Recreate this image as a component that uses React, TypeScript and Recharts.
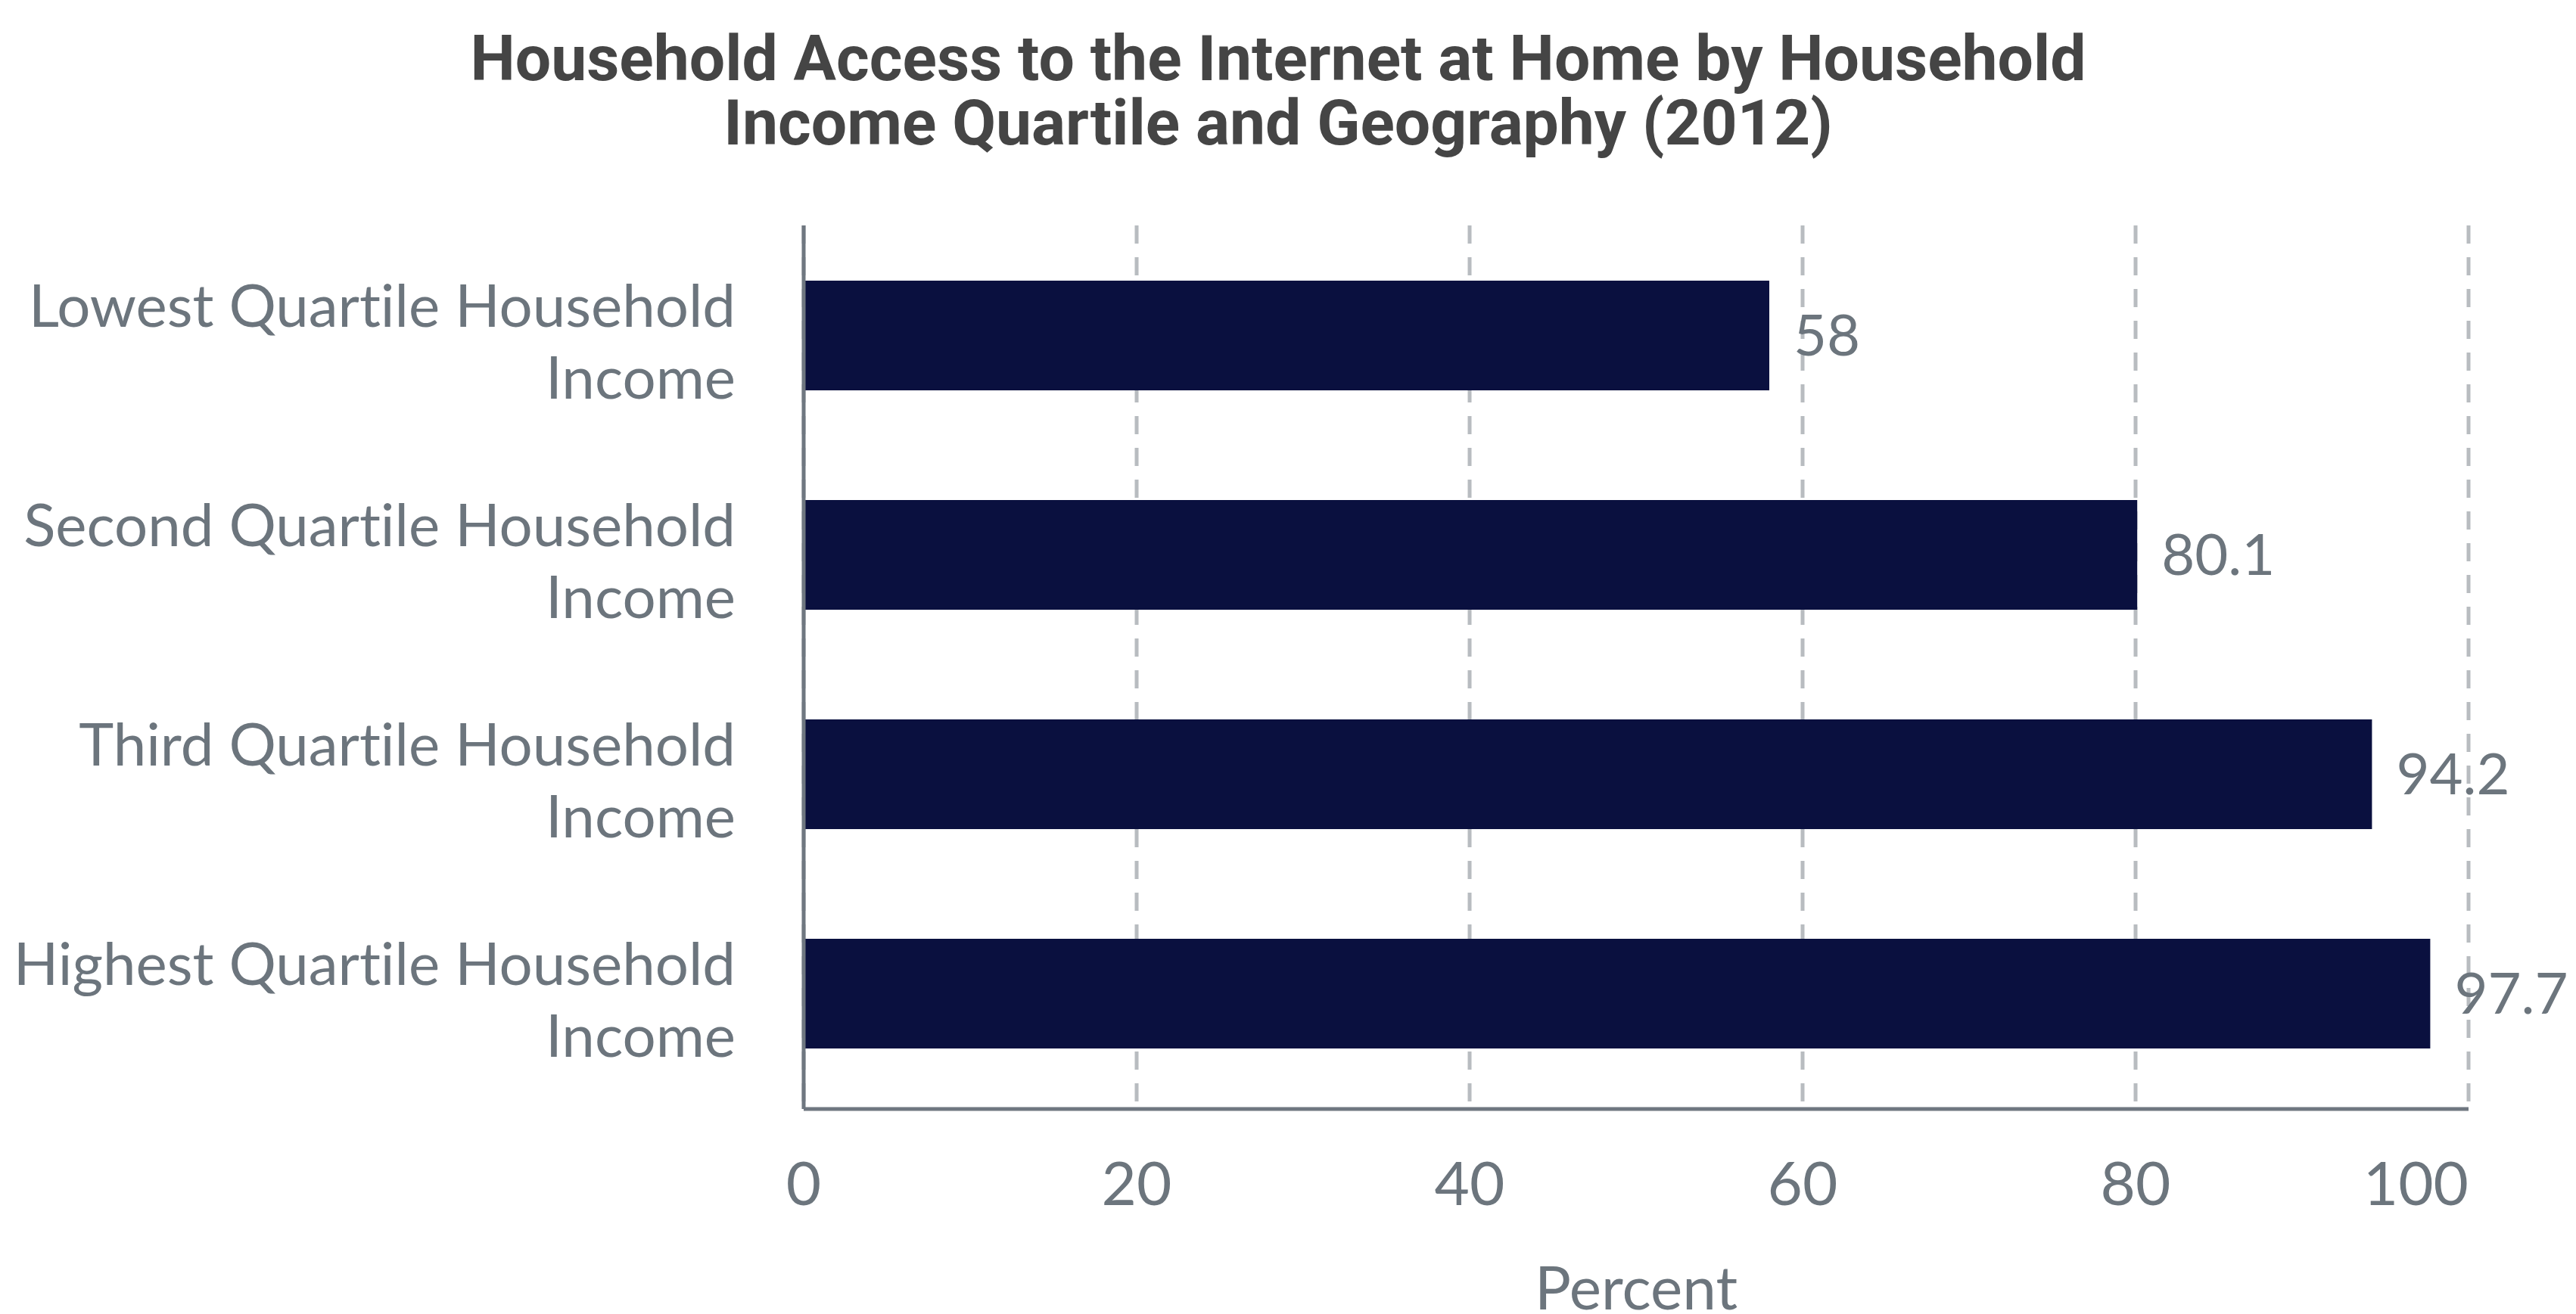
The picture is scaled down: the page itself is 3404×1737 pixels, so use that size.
import { BarChart, Bar, XAxis, YAxis, CartesianGrid, LabelList } from 'recharts';

const categories = [
  'Lowest Quartile Household Income',
  'Second Quartile Household Income',
  'Third Quartile Household Income',
  'Highest Quartile Household Income',
];
const percent = [58, 80.1, 94.2, 97.7];
const xTicks = [0, 20, 40, 60, 80, 100];

const data = categories.map((name, i) => ({ name, value: percent[i] }));

const GREY = '#6c757d';
const AXIS = '#6f7780';

function CategoryTick({ x, y, payload }: any) {
  const words = String(payload.value).split(' ');
  const last = words.pop();
  return (
    <text
      x={x}
      y={y}
      textAnchor="end"
      fill={GREY}
      fontSize={78}
      fontFamily="Lato"
      style={{ fontVariantLigatures: 'none' }}
    >
      <tspan x={x} dy={-11}>{words.join(' ')}</tspan>
      <tspan x={x} dy={95}>{last}</tspan>
    </text>
  );
}

function ValueTick({ x, y, payload, index }: any) {
  // the last label is kept inside the chart, right-aligned on its gridline
  const anchor = index === xTicks.length - 1 ? 'end' : 'middle';
  return (
    <text x={x} y={y} dy={127} textAnchor={anchor} fill={GREY} fontSize={80} fontFamily="Lato">
      {payload.value}
    </text>
  );
}

export default function App() {
  return (
    <div style={{ position: 'absolute', left: 0, top: 0, width: 3404, height: 1737, background: '#fff' }}>
      <div
        style={{
          position: 'absolute',
          left: 0,
          top: 35,
          width: 3378,
          textAlign: 'center',
          fontFamily: 'Roboto',
          fontWeight: 700,
          fontSize: 84,
          lineHeight: '85px',
          color: '#454545',
        }}
      >
        Household Access to the Internet at Home by Household
        <br />
        Income Quartile and Geography (2012)
      </div>
      <BarChart
        width={3404}
        height={1737}
        data={data}
        layout="vertical"
        margin={{ top: 298, right: 142, left: 0, bottom: 0 }}
      >
        <CartesianGrid horizontal={false} stroke="#b8bcc0" strokeWidth={5} strokeDasharray="24 18" />
        <XAxis
          type="number"
          dataKey="value"
          domain={[0, 100]}
          ticks={xTicks}
          height={271}
          tickSize={0}
          tickMargin={0}
          tick={<ValueTick />}
          axisLine={{ stroke: AXIS, strokeWidth: 5 }}
          tickLine={false}
          label={{ value: 'Percent', position: 'insideBottom', offset: 6, fill: GREY, fontSize: 80, fontFamily: 'Lato' }}
        />
        <YAxis
          type="category"
          dataKey="name"
          width={1062}
          tickSize={0}
          tickMargin={90}
          tick={<CategoryTick />}
          axisLine={{ stroke: AXIS, strokeWidth: 5 }}
          tickLine={false}
          interval={0}
          padding={{ top: 0, bottom: 8 }}
        />
        <Bar dataKey="value" fill="#0a103f" barSize={145} isAnimationActive={false}>
          <LabelList dataKey="value" position="right" offset={32} fill={GREY} fontSize={76} fontFamily="Lato" />
        </Bar>
      </BarChart>
    </div>
  );
}
